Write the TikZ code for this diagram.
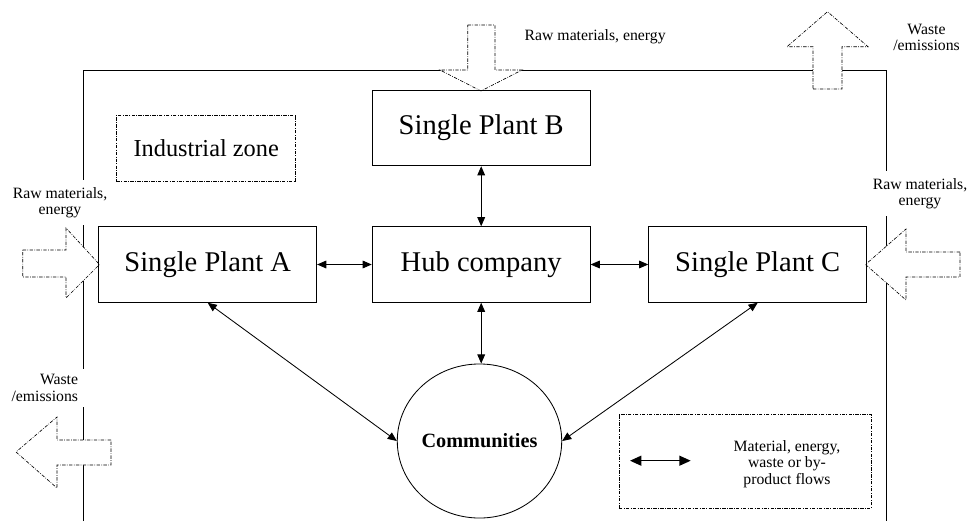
\documentclass[tikz,border=0pt]{standalone}
\usepackage{fontspec}
\setmainfont{Liberation Serif}
\usetikzlibrary{arrows.meta,positioning,shapes.geometric}

\begin{document}
\begin{tikzpicture}[x=0.025cm,y=-0.025cm,>={Triangle[length=6.5pt,width=5.5pt]},
    plant/.style={draw, line width=0.6pt, minimum width=5.45cm, minimum height=1.89cm, inner sep=0pt, font=\fontsize{20.3}{24}\selectfont},
    flow/.style={<->, line width=0.6pt},
    dashdot/.style={line width=0.45pt, dash pattern=on 2.4pt off 1pt on 0.5pt off 1pt},
    blockarrow/.style={dashdot, fill=white},
    note/.style={font=\fontsize{11.2}{11.6}\selectfont, align=center, inner sep=1pt}]
        \useasboundingbox (0,0) rectangle (976,521);
        % boundary of the site
        \draw[line width=0.7pt] (83,521) -- (83,70.7) -- (886,70.7) -- (886,521);
        % inputs and outputs
        \draw[blockarrow] (467.7,25) -- (495,25) -- (495,70) -- (522,70) -- (481,91) -- (440,70) -- (467.7,70) -- cycle;
        \draw[blockarrow] (813,89) -- (842,89) -- (842,46.7) -- (868,46.7) -- (827.5,11.7) -- (787,46.7) -- (813,46.7) -- cycle;
        \draw[blockarrow] (22.7,250) -- (66,250) -- (66,228) -- (99.5,264.5) -- (66,298) -- (66,277) -- (22.7,277) -- cycle;
        \draw[blockarrow] (960,252) -- (906,252) -- (906,229) -- (865.5,264.5) -- (906,300) -- (906,277) -- (960,277) -- cycle;
        \draw[blockarrow] (111,440) -- (57,440) -- (57,417) -- (16,452) -- (57,488) -- (57,465) -- (111,465) -- cycle;
        \node[note, anchor=west] (rawtop) at (523,37) {Raw materials, energy};
        \node[note] (wastetop) at (926.5,37.5) {Waste\\/emissions};
        \node[note, fill=white, inner sep=5pt] (rawleft) at (60,202.5) {Raw materials,\\energy};
        \node[note, fill=white, inner sep=5pt] (rawright) at (920,193.5) {Raw materials,\\energy};
        \node[note, fill=white, inner sep=4pt, align=right, anchor=east] (wasteleft) at (84,388) {Waste\\/emissions};
        % plants
        \node[plant] (hub) at (481.2,264.5) {Hub company};
        \node[plant, left=1.365cm of hub] (plantA) {Single Plant A};
        \node[plant, right=1.44cm of hub] (plantC) {Single Plant C};
        \node[plant, above=1.5cm of hub] (plantB) {Single Plant B};
        \node[draw, ellipse, line width=0.6pt, minimum width=4.11cm, minimum height=3.85cm, inner sep=0pt, font=\fontsize{14.4}{17}\selectfont\bfseries] (comm) at (479.5,441) {Communities};
        \node[draw, dashdot, minimum width=4.475cm, minimum height=1.667cm, font=\fontsize{17.3}{20}\selectfont] (zone) at (206.2,148.3) {Industrial zone};
        \draw[flow] (plantA) -- (hub);
        \draw[flow] (hub) -- (plantC);
        \draw[flow] (plantB) -- (hub);
        \draw[flow] (hub.south) -- (hub.south |- comm.north);
        \draw[flow] (plantA.south) -- (comm.west);
        \draw[flow] (plantC.south) -- (comm.east);
        % legend
        \node[draw, dashdot, minimum width=6.3cm, minimum height=2.35cm] (legend) at (745,461) {};
        \coordinate (legL) at (630,460.7);
        \coordinate (legR) at (690.7,460.7);
        \draw[<->, line width=0.9pt, >={Triangle[length=8pt,width=7pt]}] (legL) -- (legR);
        \node[note] (legtext) at (787,464) {Material, energy,\\waste or by-\\product flows};
      \end{tikzpicture}
\end{document}
